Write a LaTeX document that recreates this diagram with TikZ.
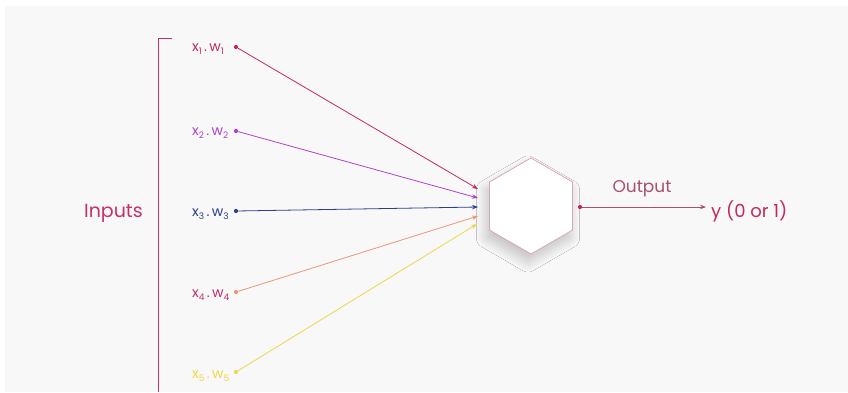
\documentclass[tikz,border=0pt]{standalone}
\usepackage{fontspec}
\setmainfont{Poppins}
\usetikzlibrary{arrows.meta, shapes.geometric, shadows.blur}

\newcommand{\lowsub}[1]{\raisebox{-0.35ex}{\fontsize{9}{10}\selectfont #1}}

\begin{document}
\begin{tikzpicture}[x=1pt, y=-1pt,
    label/.style={anchor=west, inner sep=0pt, font=\fontsize{14}{16}\selectfont},
    dot/.style={circle, fill, inner sep=0pt, minimum size=4.2pt},
    wire/.style={line width=0.8pt, -{Stealth[length=6pt, width=4.5pt]}}]
    \definecolor{pageColour}{HTML}{F8F8F8}
    \definecolor{bracketColour}{HTML}{C8306A}
    \definecolor{oneColour}{HTML}{C42A58}
    \definecolor{twoColour}{HTML}{B040D0}
    \definecolor{threeColour}{HTML}{2B3F8C}
    \definecolor{fourLabel}{HTML}{C4306A}
    \definecolor{fourColour}{HTML}{F09678}
    \definecolor{fiveColour}{HTML}{EED848}
    \definecolor{hexColour}{HTML}{D8A8B8}
    \definecolor{outColour}{HTML}{A8506E}

    % Page background
    \useasboundingbox (0,0) rectangle (848,392);
    \fill[pageColour] (5,6) rectangle (848,392);

    % Bracket round the inputs
    \draw[bracketColour, line width=1pt] (172,38) -- (158,38) -- (158,392);
    \node[anchor=east, inner sep=0pt, text=bracketColour, font=\fontsize{19}{22}\selectfont] (inputs) at (143,213) {Inputs};

    % Weighted inputs
    \node[label, text=oneColour] (in1) at (192,49) {x\lowsub{1}\,.\,w\lowsub{1}};
    \node[label, text=twoColour] (in2) at (192,133) {x\lowsub{2}\,.\,w\lowsub{2}};
    \node[label, text=threeColour] (in3) at (192,214) {x\lowsub{3}\,.\,w\lowsub{3}};
    \node[label, text=fourLabel] (in4) at (192,295) {x\lowsub{4}\,.\,w\lowsub{4}};
    \node[label, text=fiveColour] (in5) at (192,376) {x\lowsub{5}\,.\,w\lowsub{5}};

    \node[dot, oneColour] (d1) at (236,47) {};
    \node[dot, twoColour] (d2) at (236,131) {};
    \node[dot, threeColour] (d3) at (236,211) {};
    \node[dot, fourColour] (d4) at (236,292) {};
    \node[dot, fiveColour] (d5) at (236,372) {};

    % Neuron
    \node[regular polygon, regular polygon sides=6, shape border rotate=30, minimum size=96pt,
          inner sep=0pt, draw=hexColour, line width=0.8pt, fill=white,
          blur shadow={shadow xshift=-3pt, shadow yshift=-8pt, shadow blur radius=10pt,
                       shadow blur steps=20, shadow opacity=22}] (neuron) at (531,206) {};

    % Arrow ends on the neuron
    \coordinate (a1) at (478,189);
    \coordinate (a2) at (478,198);
    \coordinate (a3) at (478,207);
    \coordinate (a4) at (478,216);
    \coordinate (a5) at (477,224);

    % Draw connectors
    \foreach \i/\c in {1/oneColour, 2/twoColour, 3/threeColour, 4/fourColour, 5/fiveColour}
        \draw[wire, \c] (d\i) -- (a\i);

    % Output
    \node[dot, oneColour] (dout) at (580,207) {};
    \node[anchor=west, inner sep=0pt, text=oneColour, font=\fontsize{18}{21}\selectfont] (y) at (711,211) {y (0 or 1)};
    \draw[wire, outColour] (dout) -- (706,207) coordinate (yin);
    \node[anchor=south, inner sep=0pt, text=outColour, font=\fontsize{17}{20}\selectfont] (outlabel) at (642,197) {Output};

\end{tikzpicture}
\end{document}
